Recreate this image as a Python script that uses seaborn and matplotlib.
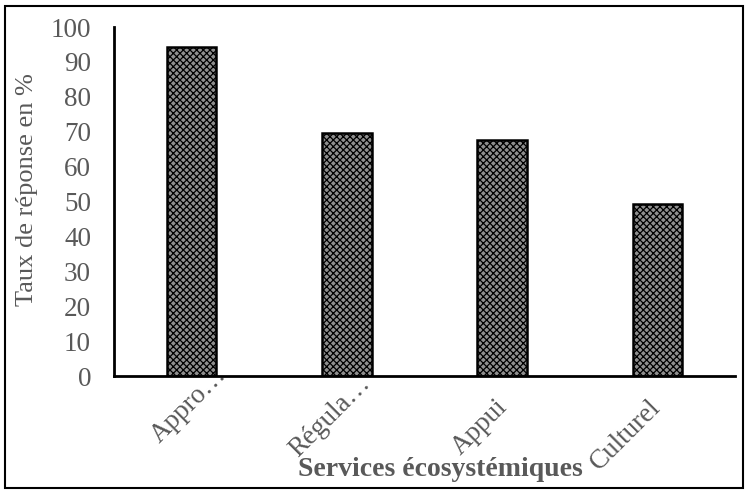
import matplotlib
matplotlib.use("Agg")
import matplotlib.pyplot as plt
import matplotlib.transforms as mtransforms
from matplotlib.patches import Rectangle
import seaborn as sns
import pandas as pd

categories = ["Appro…", "Régula…", "Appui", "Culturel"]
values = [94.2, 69.7, 67.6, 49.3]
y_ticks = [0, 10, 20, 30, 40, 50, 60, 70, 80, 90, 100]
y_label = "Taux de réponse en %"
x_label = "Services écosystémiques"

sns.set_theme(style="white")
plt.rcParams['font.family'] = ['Liberation Serif', 'DejaVu Serif']
plt.rcParams['hatch.linewidth'] = 0.9

TXT = "#595959"
df = pd.DataFrame({"cat": categories, "val": values})

fig = plt.figure(figsize=(7.49, 4.94), dpi=100)
ax = fig.add_axes([114/749, 1-376/494, (735-114)/749, (376-27)/494])

sns.barplot(data=df, x="cat", y="val", ax=ax, width=0.32, color="white",
            edgecolor="black", linewidth=1.8, saturation=1)
for p in ax.patches:
    p.set_hatch("xxxxx")
    p.set_facecolor("#8f8f8f")

ax.set_xlim(-0.5, 3.5)
ax.set_ylim(0, 100)
ax.set_yticks(y_ticks)
ax.set_yticklabels([str(t) for t in y_ticks])
for s in ["top", "right"]:
    ax.spines[s].set_visible(False)
for s in ["left", "bottom"]:
    ax.spines[s].set_color("black")
    ax.spines[s].set_linewidth(2)

ax.tick_params(axis="y", length=0, pad=16.5, labelsize=19.5, labelcolor=TXT)
ax.tick_params(axis="x", length=0, pad=0, labelsize=19.5, labelcolor=TXT)

offsets = [(-3, 29), (-17, 41), (-22, 51), (-32, 59)]
for lab, (dx, dy) in zip(ax.get_xticklabels(), offsets):
    lab.set_rotation(45)
    lab.set_rotation_mode("anchor")
    lab.set_ha("center")
    lab.set_va("center")
    lab.set_transform(lab.get_transform() +
                      mtransforms.ScaledTranslation(dx/100, -dy/100, fig.dpi_scale_trans))

ax.set_xlabel(x_label, fontsize=20, fontweight="bold", color=TXT, va="center", ha="center")
ax.xaxis.set_label_coords((440-114)/621, (376-470)/349)
ax.set_ylabel(y_label, fontsize=19, color=TXT, va="center", ha="center")
ax.yaxis.set_label_coords((27-114)/621, (376-190)/349)

fig.patches.append(Rectangle((5/749, 6/494), 738/749, 482/494, transform=fig.transFigure,
                             fill=False, edgecolor="black", linewidth=1.5))

fig.savefig("out.png", dpi=100)
